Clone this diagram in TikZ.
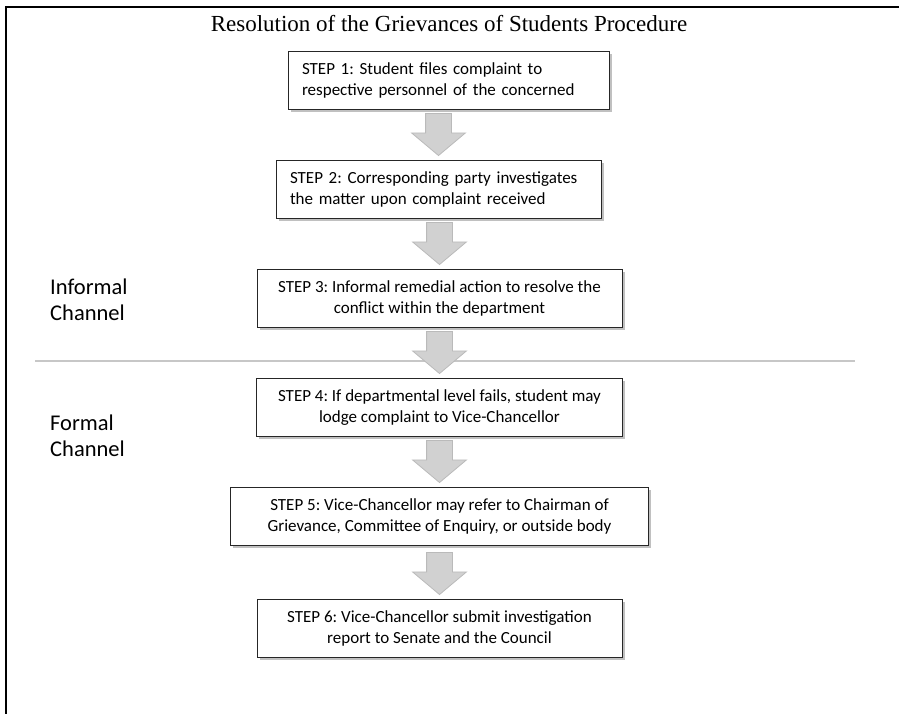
\documentclass[tikz,border=0pt]{standalone}
\usepackage{fontspec}
\setmainfont{Liberation Serif}
\newfontfamily\stepfont{Carlito}
\usetikzlibrary{shapes.arrows,shadows}
\frenchspacing

\begin{document}
\begin{tikzpicture}[
    x = 1pt, y = -1pt,
    stepbox/.style = {draw=black!85, line width=0.9pt, fill=white,
      font=\stepfont\fontsize{17pt}{21pt}\selectfont,
      inner xsep=14pt, minimum height=58pt,
      drop shadow={shadow xshift=2.5pt, shadow yshift=-2.5pt, fill=black!45, opacity=.55}},
    fatarrow/.style = {single arrow, rotate=-90, draw=black!27, fill=black!18,
      line width=0.8pt, inner xsep=0pt, inner ysep=12.5pt, minimum height=42pt,
      single arrow head extend=14pt, single arrow tip angle=100},
    chan/.style = {anchor=west, align=left, inner sep=0pt,
      font=\stepfont\fontsize{22.5pt}{26pt}\selectfont},
    node distance = 109pt,
  ]
  \useasboundingbox (0,0) rectangle (899,714);
  \draw[line width=1.1pt] (899,7) -- (6,7) -- (6,714);
  \draw[black!22, line width=1.3pt] (35,361) -- (855,361);

  \node[font=\fontsize{23pt}{27pt}\selectfont] (title) at (449,24) {Resolution of the Grievances of Students Procedure};

  \node[stepbox, text width=293pt, align=left] (s1) at (448.5,80.5) {STEP 1: Student files complaint to\\respective personnel of the concerned};
  \node[stepbox, text width=297pt, align=left, below of=s1, xshift=-10pt] (s2) {STEP 2: Corresponding party investigates\\the matter upon complaint received};
  \node[stepbox, minimum width=365pt, align=center, below of=s2, xshift=1pt] (s3) {STEP 3: Informal remedial action to resolve the\\conflict within the department};
  \node[stepbox, minimum width=366pt, align=center, below of=s3] (s4) {STEP 4: If departmental level fails, student may\\lodge complaint to Vice-Chancellor};
  \node[stepbox, minimum width=418pt, align=center, below of=s4] (s5) {STEP 5: Vice-Chancellor may refer to Chairman of\\Grievance, Committee of Enquiry, or outside body};
  \node[stepbox, minimum width=365pt, align=center, below of=s5, yshift=-3pt] (s6) {STEP 6: Vice-Chancellor submit investigation\\report to Senate and the Council};

  \foreach \a/\b in {s1/s2, s2/s3, s3/s4, s4/s5, s5/s6}
    \node[fatarrow, anchor=tip] (arr-\b) at ([yshift=4pt]\b.north) {};

  \node[chan] (informal) at (50,300) {Informal\\Channel};
  \node[chan] (formal) at (50,436) {Formal\\Channel};
\end{tikzpicture}
\end{document}
